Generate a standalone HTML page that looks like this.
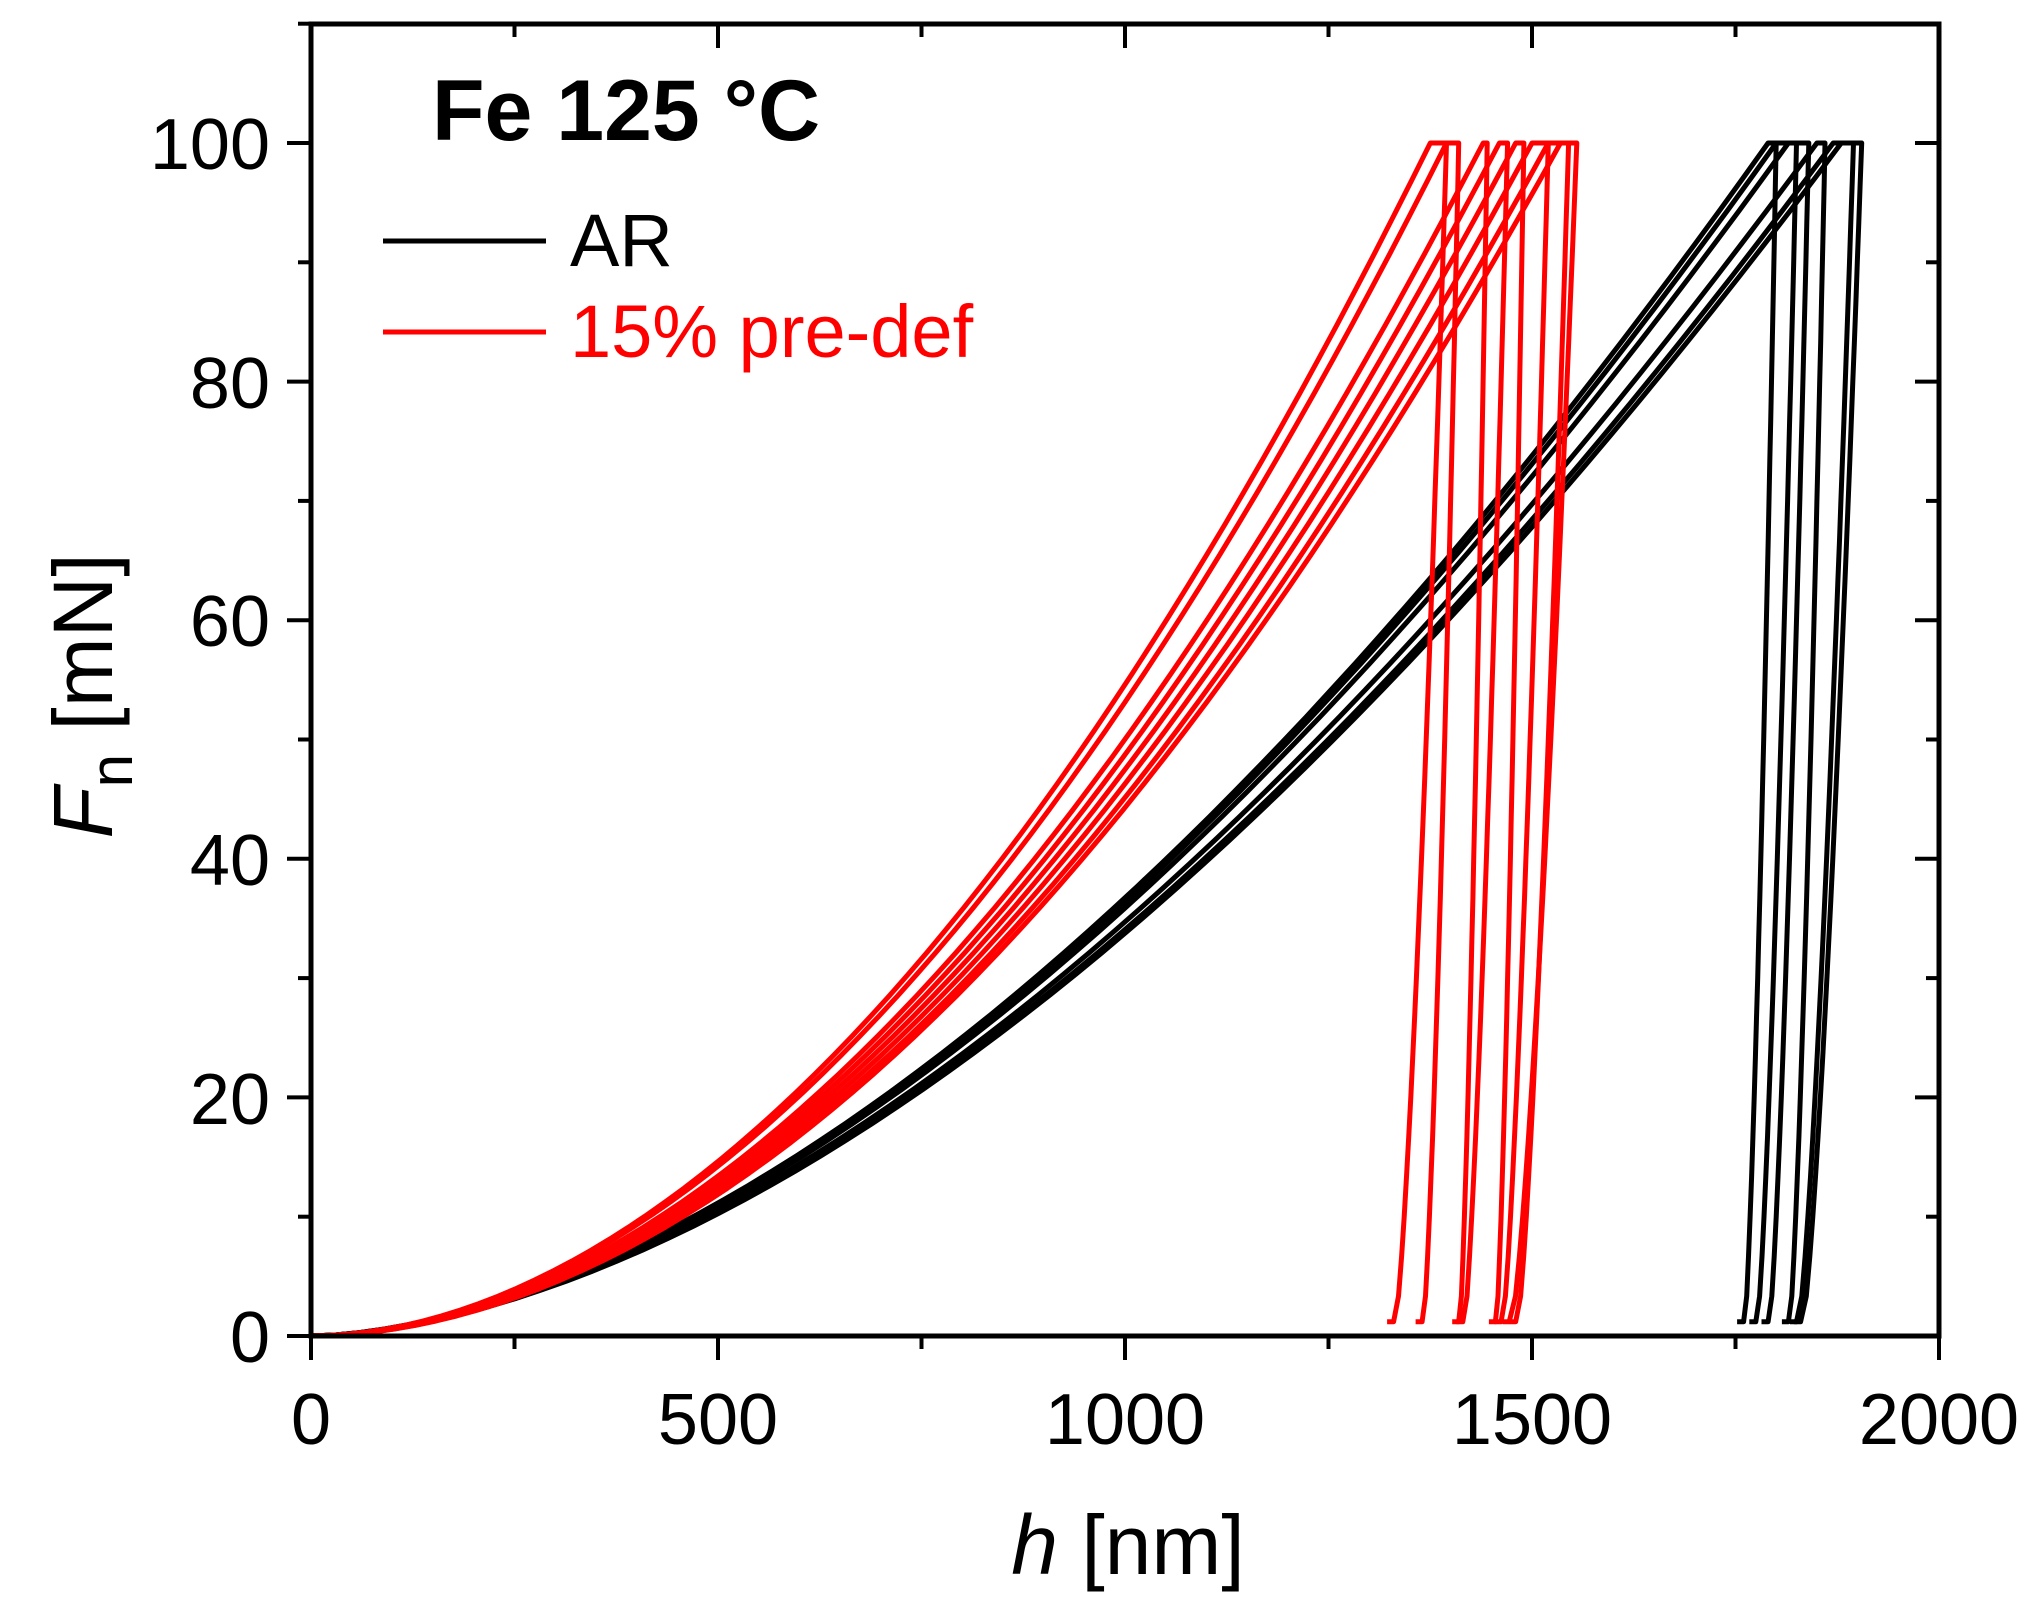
<!DOCTYPE html>
<html><head><meta charset="utf-8"><style>
html,body{margin:0;padding:0;background:#fff;width:2033px;height:1612px;overflow:hidden}
svg{display:block}
text{font-family:"Liberation Sans",Arial,sans-serif}
</style></head><body>
<svg id="s" width="2033" height="1612" viewBox="0 0 2033 1612" xmlns="http://www.w3.org/2000/svg">
<g id="curves" fill="none" stroke-width="5" stroke-linejoin="round"></g>
<rect x="311" y="24" width="1628" height="1312" fill="none" stroke="#000" stroke-width="5"/>
<g id="ticks" stroke="#000" stroke-width="4"></g>
<g font-size="72" text-anchor="middle" fill="#000">
<text x="311" y="1444">0</text><text x="718" y="1444">500</text><text x="1125" y="1444">1000</text><text x="1532" y="1444">1500</text><text x="1939" y="1444">2000</text>
</g>
<g font-size="72" text-anchor="end" fill="#000">
<text x="270" y="1362">0</text><text x="270" y="1124">20</text><text x="270" y="885">40</text><text x="270" y="646">60</text><text x="270" y="408">80</text><text x="270" y="169">100</text>
</g>
<text x="1128" y="1574" font-size="84" text-anchor="middle"><tspan font-style="italic">h</tspan> [nm]</text>
<text transform="translate(112,696) rotate(-90)" font-size="84" text-anchor="middle"><tspan font-style="italic">F</tspan><tspan font-size="60" dy="20">n</tspan><tspan dy="-20"> [mN]</tspan></text>
<text x="432" y="140" font-size="86" font-weight="bold">Fe 125 °C</text>
<line x1="383" y1="241" x2="546" y2="241" stroke="#000" stroke-width="5"/>
<text x="570" y="266" font-size="74">AR</text>
<line x1="383" y1="332" x2="546" y2="332" stroke="#f00" stroke-width="5"/>
<text x="570" y="357" font-size="74" fill="#f00">15% pre-def</text>
</svg>
<script>
var X=h=>311+h*0.814, Y=F=>1336-F*11.93;
var g=document.getElementById('curves'),t=document.getElementById('ticks');
function curve(hl,hm,hf,col){
  var d='M'+X(0)+' '+Y(0),m=col=='#f00'?1.9:1.72;
  for(var i=1;i<=60;i++){var h=hl*i/60;d+=' L'+X(h).toFixed(1)+' '+Y(100*Math.pow(h/hl,m)).toFixed(1);}
  d+=' L'+X(hm).toFixed(1)+' '+Y(100).toFixed(1);
  for(var i=1;i<=30;i++){var f=1-i/30;var h=hf+(hm-hf)*Math.pow(f,0.7);var F=100*f;if(F<1.2)F=1.2;d+=' L'+X(h).toFixed(1)+' '+Y(F).toFixed(1);}
  d+=' L'+X(hf-8).toFixed(1)+' '+Y(1.2).toFixed(1);
  var p=document.createElementNS('http://www.w3.org/2000/svg','path');p.setAttribute('d',d);p.setAttribute('stroke',col);g.appendChild(p);
}
[[1790,1800,1760],[1800,1825,1775],[1815,1840,1790],[1850,1860,1815],[1880,1905,1830],[1870,1895,1825]].forEach(a=>curve(a[0],a[1],a[2],'#000'));
[[1375,1395,1330],[1395,1410,1365],[1440,1445,1410],[1460,1470,1415],[1480,1490,1455],[1500,1520,1462],[1520,1545,1480],[1535,1555,1472]].forEach(a=>curve(a[0],a[1],a[2],'#f00'));
function L(x1,y1,x2,y2){var l=document.createElementNS('http://www.w3.org/2000/svg','line');l.setAttribute('x1',x1);l.setAttribute('y1',y1);l.setAttribute('x2',x2);l.setAttribute('y2',y2);t.appendChild(l);}
for(var h=0;h<=2000;h+=250){var x=X(h),mj=h%500==0;L(x,1336,x,1336+(mj?24:13));L(x,24,x,24+(mj?24:13));}
for(var F=0;F<=110;F+=10){var y=Y(F),mj=F%20==0;L(311,y,311-(mj?24:13),y);L(1939,y,1939-(mj?24:13),y);}
</script>
</body></html>
